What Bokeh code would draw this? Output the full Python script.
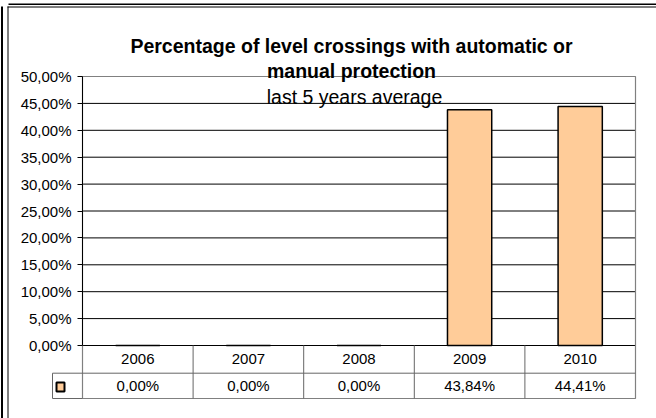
from bokeh.plotting import figure
from bokeh.models import Range1d, LinearAxis, FixedTicker, Label
from bokeh.embed import file_html
from bokeh.resources import INLINE
from bokeh.core.properties import value

# ---------------- data ----------------
title_lines = ["Percentage of level crossings with automatic or", "manual protection"]
subtitle = "last 5 years average"
years = ["2006", "2007", "2008", "2009", "2010"]
values = [0.00, 0.00, 0.00, 43.84, 44.41]          # percent
y_ticks = [0, 5, 10, 15, 20, 25, 30, 35, 40, 45, 50]


def pct(v):
    return f"{v:.2f}%".replace(".", ",")


# ---------------- layout (pixels on the 656x418 canvas) ----------------
W, H = 656, 418
PL, PR, PT = 82, 635, 76        # plot area left/right/top
Y0_PX = 345                      # y pixel of 0 %
ROW1_PX = 372.7                  # line between table rows
TB_PX = 398                      # table bottom
KEY_L_PX = 52                    # left edge of legend key cell
Y_MAX = 50.0
X_N = float(len(years))
SX = (PR - PL) / X_N             # px per x unit
SY = (Y0_PX - PT) / Y_MAX        # px per y unit


def px_x(px):
    return (px - PL) / SX


def px_y(py):
    return (Y0_PX - py) / SY


FONT = "Liberation Sans"
TABLE_LINE = "#666666"
BORDER = "#808080"

p = figure(width=W, height=H, output_backend="svg", toolbar_location=None,
           x_range=Range1d(px_x(0), px_x(W)), y_range=Range1d(px_y(H), px_y(0)),
           x_axis_type=None, y_axis_type=None,
           min_border_left=0, min_border_right=0, min_border_top=0, min_border_bottom=0,
           outline_line_color=None,
           background_fill_color="white", border_fill_color="white")

y_min = px_y(TB_PX)
row1_y = px_y(ROW1_PX)

# grid lines
p.segment(x0=[0] * (len(y_ticks) - 1), y0=y_ticks[:-1], x1=[X_N] * (len(y_ticks) - 1),
          y1=y_ticks[:-1], line_color="black", line_width=1)

# plot area + table border
p.quad(left=[0], right=[X_N], top=[Y_MAX], bottom=[y_min], fill_color=None,
       line_color=BORDER, line_width=1.2)

# bars
xs = [i + 0.5 for i in range(len(years))]
p.vbar(x=xs, width=0.4, bottom=0, top=values, fill_color="#FFCC99",
       line_color="black", line_width=1.5)

# data table
p.segment(x0=[px_x(KEY_L_PX)], y0=[row1_y], x1=[X_N], y1=[row1_y],
          line_color=TABLE_LINE, line_width=1)
p.segment(x0=list(range(1, len(years))), y0=[0] * (len(years) - 1),
          x1=list(range(1, len(years))), y1=[y_min] * (len(years) - 1),
          line_color=TABLE_LINE, line_width=1)
p.segment(x0=[px_x(KEY_L_PX), px_x(KEY_L_PX)], y0=[row1_y, y_min],
          x1=[px_x(KEY_L_PX), 0], y1=[y_min, y_min],
          line_color=TABLE_LINE, line_width=1)
p.text(x=xs, y=[row1_y / 2] * len(years), text=years,
       text_align="center", text_baseline="middle",
       text_font=value(FONT), text_font_size="15px", text_color="black")
p.text(x=xs, y=[(row1_y + y_min) / 2] * len(years), text=[pct(v) for v in values],
       text_align="center", text_baseline="middle",
       text_font=value(FONT), text_font_size="15px", text_color="black")

# legend key
p.quad(left=[px_x(56)], right=[px_x(64)], top=[px_y(382)], bottom=[px_y(391)],
       fill_color="#FFCC99", line_color="black", line_width=2)

# y axis (fixed at x = 0, i.e. left edge of the plot area)
yaxis = LinearAxis(ticker=FixedTicker(ticks=y_ticks), bounds=(0, Y_MAX), fixed_location=0,
                   major_label_overrides={t: pct(t) for t in y_ticks},
                   axis_line_color="black", axis_line_width=1,
                   major_tick_line_color="black", major_tick_out=5, major_tick_in=0,
                   minor_tick_line_color=None, major_label_standoff=6,
                   major_label_text_font=FONT, major_label_text_font_size="15px",
                   major_label_text_color="black")
p.add_layout(yaxis, "left")

# titles
for text, base in zip(title_lines, [45.7, 70.7]):
    p.add_layout(Label(x=px_x(351), y=px_y(base), text=text,
                       text_align="center", text_baseline="alphabetic",
                       text_font=FONT, text_font_style="bold",
                       text_font_size="19.5px", text_color="black"))
p.add_layout(Label(x=px_x(354), y=px_y(96), text=subtitle,
                   text_align="center", text_baseline="alphabetic",
                   text_font=FONT, text_font_size="19.5px", text_color="black"))

# document frame lines
fl, fr, ft, fb = [], [], [], []
for l, r, t, b in [(8, W, 3, 4.5), (7, W, 6, 7), (0.5, 2.5, 6, H), (7, 8, 6, H)]:
    fl.append(px_x(l)); fr.append(px_x(r)); ft.append(px_y(t)); fb.append(px_y(b))
p.quad(left=fl, right=fr, top=ft, bottom=fb, fill_color="black", line_color=None)

open("out.html", "w").write(file_html(p, INLINE))
